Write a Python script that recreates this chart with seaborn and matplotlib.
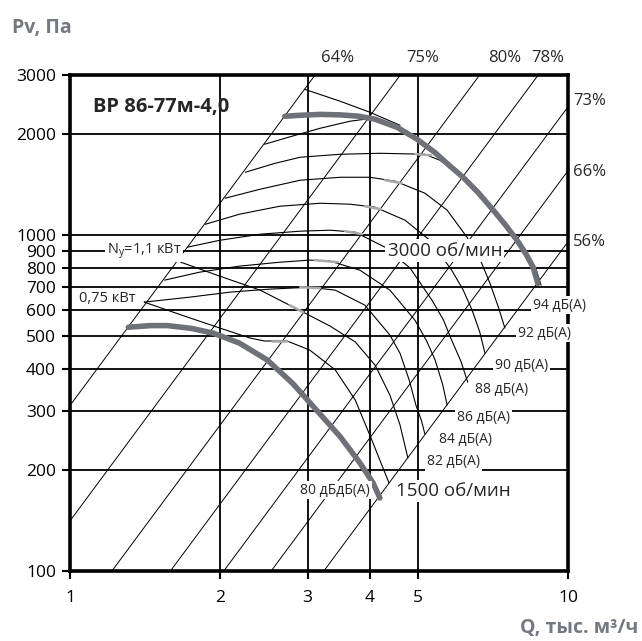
import pandas as pd
import matplotlib
matplotlib.use("Agg")
import matplotlib.pyplot as plt
import seaborn as sns

sns.set_style("white")
plt.rcParams['font.family'] = ['Open Sans', 'DejaVu Sans']

# оси
q_ticks = [1, 2, 3, 4, 5, 10]
p_ticks = [100, 200, 300, 400, 500, 600, 700, 800, 900, 1000, 2000, 3000]

# лучи КПД (концы отрезков)
eff_labels = ['64%', '75%', '80%', '78%', '73%', '66%', '56%']
eff_q = [[1.0, 3.106], [1.0, 4.606], [1.214, 6.647], [1.591, 8.715],
         [2.036, 10.0], [2.535, 10.0], [3.234, 10.0]]
eff_p = [[311, 3000], [141, 3000], [100, 3000], [100, 3000],
         [100, 2412], [100, 1556], [100, 956]]

# рабочие характеристики 3000 и 1500 об/мин
q_3000 = [2.70, 2.90, 3.18, 3.49, 3.80, 4.10, 4.54, 4.98, 5.40, 5.80, 6.15, 6.60, 7.07, 7.50, 7.90, 8.25, 8.51, 8.70]
p_3000 = [2261, 2276, 2290, 2282, 2262, 2215, 2095, 1930, 1765, 1605, 1490, 1340, 1190, 1070, 966, 875, 803, 719]
q_1500 = [1.31, 1.45, 1.57, 1.75, 1.94, 2.19, 2.49, 2.80, 3.18, 3.49, 3.82, 4.06, 4.19]
p_1500 = [532, 538, 538, 528, 511, 477, 425, 362, 293, 251, 210, 183, 165]

# тонкие характеристики
q_a = [2.46, 2.79, 3.18, 3.65, 4.04]
p_a = [1866, 1971, 2082, 2185, 2230]
q_b = [2.25, 2.58, 2.90, 3.49, 4.19, 5.16, 5.53, 5.93, 6.30, 7.20, 8.05, 8.63, 8.83]
p_b = [1540, 1637, 1707, 1742, 1754, 1742, 1672, 1550, 1438, 1163, 947, 792, 710]
q_c = [2.05, 2.41, 2.90, 3.49, 4.00, 4.50, 5.16, 5.72, 6.27, 6.70, 6.97, 7.25, 7.47]
p_c = [1289, 1371, 1458, 1488, 1488, 1448, 1334, 1187, 986, 830, 720, 610, 529]
q_d = [1.87, 2.19, 2.64, 3.18, 3.65, 4.10, 4.71, 5.28, 5.84, 6.15, 6.42, 6.65, 6.81]
p_d = [1078, 1155, 1220, 1245, 1237, 1212, 1108, 966, 787, 690, 598, 515, 446]
q_e = [1.72, 2.00, 2.41, 2.90, 3.33, 3.74, 4.29, 4.82, 5.33, 5.62, 5.84, 6.10, 6.29]
p_e = [921, 966, 1007, 1028, 1035, 1021, 921, 798, 641, 560, 487, 420, 365]
q_f = [1.55, 1.82, 2.19, 2.64, 3.03, 3.33, 3.82, 4.39, 4.93, 5.20, 5.41, 5.60, 5.72]
p_f = [735, 776, 809, 831, 843, 837, 787, 686, 558, 485, 425, 360, 312]
q_g = [1.41, 1.74, 2.10, 2.52, 3.03, 3.41, 3.91, 4.39, 4.60, 4.80, 4.95, 5.08, 5.16]
p_g = [632, 654, 677, 691, 700, 686, 619, 504, 445, 370, 312, 280, 256]

# линии мощности
q_top = [2.96, 3.49, 4.00, 4.60]
p_top = [2720, 2505, 2324, 2125]
q_n11 = [1.67, 2.00, 2.41, 2.76, 2.94, 3.33, 3.74, 4.10, 4.39, 4.60, 4.77]
p_n11 = [831, 755, 686, 619, 590, 536, 481, 410, 334, 272, 217]
q_n075 = [1.41, 1.70, 2.00, 2.30, 2.46, 2.73, 3.03, 3.41, 3.74, 4.04, 4.37]
p_n075 = [632, 574, 529, 494, 484, 484, 455, 397, 323, 245, 183]

# зоны максимального КПД
q_opt = [[4.93, 5.31], [4.29, 4.64], [3.91, 4.21], [3.57, 3.86],
         [3.10, 3.45], [2.90, 3.18], [2.76, 2.94], [2.55, 2.73]]
p_opt = [[1745, 1730], [1458, 1428], [1220, 1195], [1028, 1007],
         [843, 831], [700, 696], [619, 590], [484, 484]]

# уровни шума
db_labels = ['94 дБ(А)', '92 дБ(А)', '90 дБ(А)', '88 дБ(А)', '86 дБ(А)',
             '84 дБ(А)', '82 дБ(А)', '80 дБдБ(А)']
db_q = [8.51, 7.94, 7.135, 6.506, 5.985, 5.508, 5.212, 2.90]
db_p = [619, 511, 410, 348, 287, 247, 212, 174]


def long_df(curves):
    rows = []
    for name, (qs, ps) in curves.items():
        for q, p in zip(qs, ps):
            rows.append({'curve': name, 'Q': q, 'P': p})
    return pd.DataFrame(rows)


df_eff = long_df({lab: (q, p) for lab, q, p in zip(eff_labels, eff_q, eff_p)})
df_thin = long_df({'a': (q_a, p_a), 'b': (q_b, p_b), 'c': (q_c, p_c), 'd': (q_d, p_d),
                   'e': (q_e, p_e), 'f': (q_f, p_f), 'g': (q_g, p_g),
                   'top': (q_top, p_top), 'n11': (q_n11, p_n11), 'n075': (q_n075, p_n075)})
df_opt = long_df({i: (q, p) for i, (q, p) in enumerate(zip(q_opt, p_opt))})
df_thick = long_df({'3000': (q_3000, p_3000), '1500': (q_1500, p_1500)})

fig = plt.figure(figsize=(6.42, 6.41), dpi=100)
ax = fig.add_axes([0.109, 0.1092, 0.7757, 0.7738])
ax.set_xscale('log')
ax.set_yscale('log')

sns.lineplot(data=df_eff, x='Q', y='P', units='curve', estimator=None, sort=False,
             color='black', linewidth=0.7, ax=ax, legend=False, zorder=2)
sns.lineplot(data=df_thin, x='Q', y='P', units='curve', estimator=None, sort=False,
             color='black', linewidth=0.8, ax=ax, legend=False, zorder=3)
sns.lineplot(data=df_opt, x='Q', y='P', units='curve', estimator=None, sort=False,
             color='#a9a9a9', linewidth=1.8, ax=ax, legend=False, zorder=3.5)
sns.lineplot(data=df_thick, x='Q', y='P', units='curve', estimator=None, sort=False,
             color='#6e7278', linewidth=4, ax=ax, legend=False, zorder=4)

ax.set_xlim(1, 10)
ax.set_ylim(100, 3000)
ax.set_xticks(q_ticks)
ax.set_xticklabels([str(v) for v in q_ticks])
ax.set_yticks(p_ticks)
ax.set_yticklabels([str(v) for v in p_ticks])
ax.minorticks_off()
ax.grid(True, color='black', linewidth=1.3, zorder=1)
ax.set_axisbelow(True)
ax.tick_params(axis='both', direction='out', length=6, width=1.5, labelsize=12.5,
               colors='black', left=True, bottom=True, pad=4)
ax.tick_params(axis='x', pad=8)
for sp in ax.spines.values():
    sp.set_color('black')
    sp.set_linewidth(2.6)
ax.set_xlabel('')
ax.set_ylabel('')

box = dict(boxstyle='square,pad=0.12', fc='white', ec='none')

# подписи КПД
top_q = [3.45, 5.11, 7.47, 9.12]
for lab, q in zip(eff_labels[:4], top_q):
    ax.text(q, 1.034, lab, transform=ax.get_xaxis_transform(), ha='center', va='center',
            fontsize=12, clip_on=False)
right_p = [2505, 1540, 953]
for lab, p in zip(eff_labels[4:], right_p):
    ax.text(1.01, p, lab, transform=ax.get_yaxis_transform(), ha='left', va='center',
            fontsize=12, clip_on=False)

for lab, q, p in zip(db_labels, db_q, db_p):
    ax.text(q, p, lab, ha='left', va='center', fontsize=10, bbox=box, zorder=6, clip_on=False)

ax.text(5.66, 900, '3000 об/мин', ha='center', va='center', fontsize=13.5, bbox=box, zorder=6)
ax.text(5.88, 173, '1500 об/мин', ha='center', va='center', fontsize=13.5, bbox=box, zorder=6)
ax.text(1.41, 900, r'N$_\mathregular{y}$=1,1 кВт', ha='center', va='center', fontsize=10.5,
        bbox=box, zorder=6)
ax.text(1.19, 650, '0,75 кВт', ha='center', va='center', fontsize=10.5, bbox=box, zorder=6)
ax.text(0.046, 0.935, 'ВР 86-77м-4,0', transform=ax.transAxes, ha='left', va='center',
        fontsize=14.5, fontweight='bold')

fig.text(0.019, 0.956, 'Pv, Па', ha='left', va='center', fontsize=14, fontweight='bold',
         color='#747981')
fig.text(0.994, 0.02, 'Q, тыс. м³/ч', ha='right', va='center', fontsize=14,
         fontweight='bold', color='#747981')

fig.savefig('out.png', dpi=100)
